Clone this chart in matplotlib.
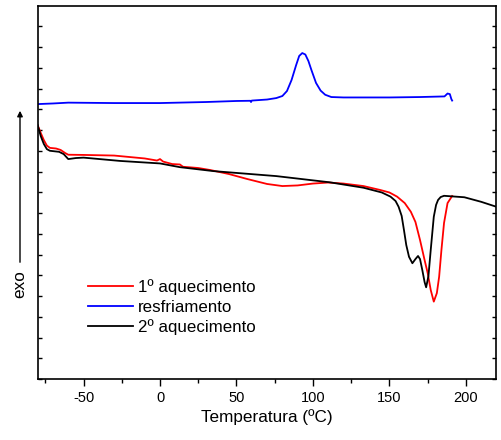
import matplotlib
matplotlib.use('Agg')

import matplotlib.pyplot as plt
from matplotlib.ticker import MultipleLocator

plt.rcParams['font.family'] = ['Liberation Sans', 'DejaVu Sans']
plt.rcParams['axes.unicode_minus'] = False

# DSC curves (temperature in C, heat flow in arbitrary units)
t_resf = [-80, -70, -60, -30, 0, 30, 50, 59, 59.5, 60, 70, 76, 80, 83, 86, 89, 91, 93,
          95, 97, 99, 102, 105, 108, 112, 120, 150, 170, 186, 188, 189.5, 190.5, 191]
y_resf = [13.25, 13.28, 13.32, 13.30, 13.30, 13.35, 13.40, 13.41, 13.35, 13.42, 13.47,
          13.54, 13.64, 13.88, 14.41, 15.13, 15.57, 15.71, 15.64, 15.33, 14.89, 14.27,
          13.90, 13.70, 13.59, 13.57, 13.57, 13.59, 13.62, 13.76, 13.73, 13.49, 13.42]

t_aq1 = [-80, -78, -76, -74, -72, -68, -65, -62, -60, -50, -30, -10, -2, 0, 2, 8, 13, 15,
         25, 33, 45, 57, 70, 80, 90, 100, 110, 120, 133, 144, 150, 155, 160, 164, 167,
         170, 173, 175, 177, 179, 181, 182.5, 184, 185.7, 188, 191]
y_aq1 = [12.23, 11.86, 11.52, 11.25, 11.14, 11.11, 11.04, 10.89, 10.81, 10.80, 10.77,
         10.63, 10.53, 10.60, 10.48, 10.36, 10.34, 10.23, 10.17, 10.07, 9.88, 9.64, 9.40,
         9.30, 9.33, 9.42, 9.47, 9.42, 9.30, 9.11, 8.99, 8.79, 8.48, 8.06, 7.57, 6.70,
         5.73, 5.11, 4.29, 3.73, 4.14, 4.93, 6.22, 7.52, 8.48, 8.82]

t_aq2 = [-80, -78, -76, -74, -72, -66, -63, -60, -55, -50, -26, 0, 13, 35, 76, 111, 133,
         145, 150.7, 154, 156, 158, 159.5, 161, 162.8, 165, 167, 168.7, 170, 171.5, 173,
         174, 175.5, 177, 179, 180.5, 181.8, 183.5, 185.7, 199, 210, 220]
y_aq2 = [12.23, 11.71, 11.33, 11.08, 11.00, 10.95, 10.84, 10.60, 10.65, 10.67, 10.51,
         10.39, 10.21, 10.02, 9.78, 9.48, 9.22, 8.99, 8.79, 8.58, 8.30, 7.86, 7.18, 6.46,
         5.89, 5.58, 5.78, 5.93, 5.78, 5.25, 4.67, 4.42, 4.96, 6.22, 7.82, 8.39, 8.63,
         8.77, 8.83, 8.76, 8.54, 8.30]

fig = plt.figure(figsize=(5.01, 4.40), dpi=100)
ax = fig.add_axes([0.0752, 0.1386, 0.9158, 0.8474])

ax.plot(t_aq1, y_aq1, color='red', lw=1.3, label='1º aquecimento')
ax.plot(t_resf, y_resf, color='blue', lw=1.3, label='resfriamento')
ax.plot(t_aq2, y_aq2, color='black', lw=1.3, label='2º aquecimento')

ax.set_xlim(-80, 220)
ax.set_ylim(0, 17.97)
ax.xaxis.set_major_locator(MultipleLocator(50))
ax.xaxis.set_minor_locator(MultipleLocator(25))
ax.yaxis.set_major_locator(MultipleLocator(1))
ax.set_yticklabels([])
ax.tick_params(axis='x', which='major', direction='out', length=5, width=1, labelsize=10.5)
ax.tick_params(axis='x', which='minor', direction='out', length=3, width=1)
ax.tick_params(axis='y', which='both', direction='in', length=3, width=1,
               left=True, right=True)
for s in ax.spines.values():
    s.set_linewidth(1.2)

ax.set_xlabel('Temperatura (ºC)', fontsize=12.3, labelpad=3)

# exo arrow on the left
fig.add_artist(matplotlib.patches.FancyArrowPatch(
    (20 / 501, 1 - 265 / 440), (20 / 501, 1 - 108 / 440),
    transform=fig.transFigure, arrowstyle='-|>', mutation_scale=8, lw=1, color='black'))
fig.text(20 / 501, 1 - 284 / 440, 'exo', rotation=90, ha='center', va='center', fontsize=12.3)

ax.legend(loc='upper left', bbox_to_anchor=(88 / 501, 1 - 279 / 440),
          bbox_transform=fig.transFigure, frameon=False, fontsize=12.2,
          handlelength=2.64, handletextpad=0.3, labelspacing=0.28,
          borderpad=0, borderaxespad=0)

fig.savefig('out.png', dpi=100)
